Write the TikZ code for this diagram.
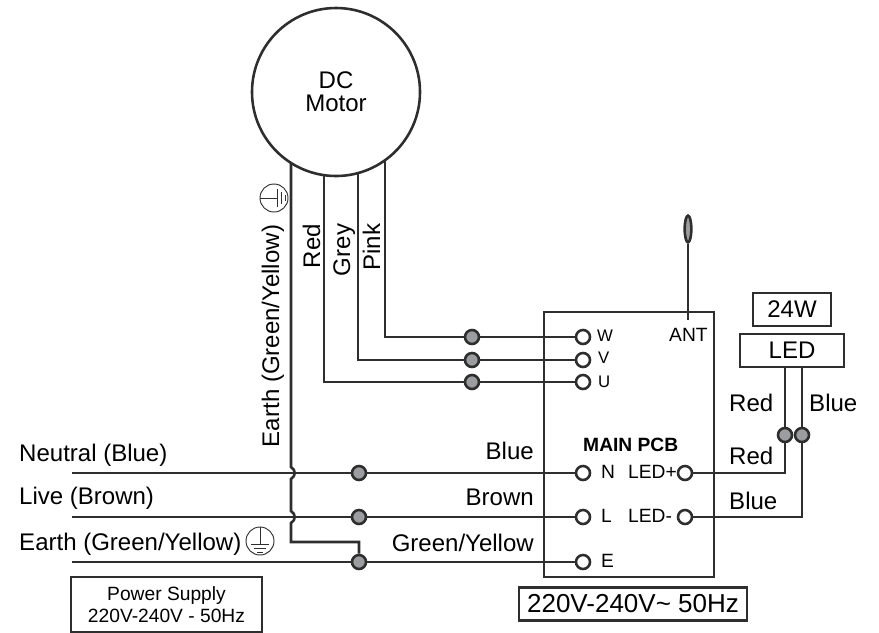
\documentclass[tikz,border=0pt]{standalone}
\usepackage{fontspec}
\usetikzlibrary{shapes.geometric}
\setmainfont{Liberation Sans}
\definecolor{wirecol}{HTML}{2E2E2E}
\definecolor{dotcol}{HTML}{9B9DA0}
\begin{document}
\begin{tikzpicture}[x=0.03cm,y=-0.03cm]
% Estilos
\tikzstyle{wire} = [line width=2.2pt, color=wirecol]
\tikzstyle{frame} = [rectangle, draw=wirecol, line width=2.2pt, inner sep=0pt, align=center, text=black]
\tikzstyle{terminal} = [circle, draw=wirecol, line width=2.2pt, fill=white, minimum size=0.42cm, inner sep=0pt]
\tikzstyle{junction} = [circle, draw=wirecol, line width=2.2pt, fill=dotcol, minimum size=0.42cm, inner sep=0pt]
\tikzstyle{lab} = [inner sep=0pt, text=black, font=\fontsize{20.5}{24}\selectfont]
\tikzstyle{pcblab} = [inner sep=0pt, text=black, font=\fontsize{16.4}{19}\selectfont]
\tikzstyle{pinlab} = [inner sep=0pt, text=black, font=\fontsize{14.3}{17}\selectfont]
\tikzset{earthsym/.pic={
    \draw[line width=0.8pt, color=wirecol] (0,0) circle (14);
    \draw[line width=0.8pt, color=wirecol] (0,-14) -- (0,3);
    \draw[line width=0.8pt, color=wirecol] (-9,3) -- (9,3);
    \draw[line width=0.8pt, color=wirecol] (-6,7) -- (6,7);
    \draw[line width=0.8pt, color=wirecol] (-3,11) -- (3,11);
}}
\useasboundingbox (0,0) rectangle (879,632);

% Motor y placa
\node[circle, draw=wirecol, line width=2.2pt, minimum size=5.04cm, inner sep=0pt, align=center, text=black, font=\fontsize{20.5}{19.6}\selectfont] (motor) at (336,92) {DC\\Motor};
\node[frame, minimum width=5.1cm, minimum height=7.95cm] (pcb) at (629,444.5) {};
\node[frame, minimum width=2.34cm, minimum height=0.99cm, font=\fontsize{20.5}{24}\selectfont] (power) at (792,309.5) {24W};
\node[frame, minimum width=3.12cm, minimum height=0.99cm, font=\fontsize{20.5}{24}\selectfont] (ledbox) at (792,350.5) {LED};
\node[frame, minimum width=6.84cm, minimum height=0.99cm, font=\fontsize{22.2}{26}\selectfont] (rating) at (633,604) {220V-240V\textasciitilde{} 50Hz};
\node[frame, minimum width=5.73cm, minimum height=1.65cm, font=\fontsize{16.4}{19}\selectfont] (supply) at (166.5,604.5) {Power Supply\\220V-240V - 50Hz};

% Bornes
\node[terminal] (tW) at (583,337) {};
\node[terminal] (tV) at (583,360) {};
\node[terminal] (tU) at (583,382) {};
\node[terminal] (tN) at (583,473) {};
\node[terminal] (tL) at (583,517) {};
\node[terminal] (tE) at (583,562) {};
\node[terminal] (tLEDp) at (685,473) {};
\node[terminal] (tLEDm) at (685,517) {};

% Empalmes
\node[junction] (jW) at (472,337) {};
\node[junction] (jV) at (472,360) {};
\node[junction] (jU) at (472,382) {};
\node[junction] (jN) at (359,473) {};
\node[junction] (jL) at (359,517) {};
\node[junction] (jE) at (359,562) {};
\node[junction] (jRed) at (785,435) {};
\node[junction] (jBlue) at (802,435) {};

% Extremos libres
\coordinate (pinkTop) at (385,160);
\coordinate (greyTop) at (358,173);
\coordinate (redTop) at (324,175);
\coordinate (earthTop) at (291,163);
\coordinate (earthBend) at (291,542);
\coordinate (inN) at (72,473);
\coordinate (inL) at (72,517);
\coordinate (inE) at (72,562);
\coordinate (antFoot) at (688,320);

% Antena
\node[ellipse, draw=wirecol, line width=2.2pt, fill=dotcol, minimum width=0.2cm, minimum height=0.8cm, inner sep=0pt] (antenna) at (688,229) {};
\draw[wire] (antenna) -- (antFoot);

% Cables del motor
\draw[wire] (pinkTop) |- (jW);
\draw[wire] (greyTop) |- (jV);
\draw[wire] (redTop) |- (jU);
\draw[wire] (jW) -- (tW);
\draw[wire] (jV) -- (tV);
\draw[wire] (jU) -- (tU);

% Alimentación
\draw[wire] (inN) -- (jN);
\draw[wire] (inL) -- (jL);
\draw[wire] (inE) -- (jE);
\draw[wire] (jN) -- (tN);
\draw[wire] (jL) -- (tL);
\draw[wire] (jE) -- (tE);
\draw[wire] (earthTop) -- (291,467) .. controls (296,470) and (296,476) .. (291,479) -- (291,511) .. controls (296,514) and (296,520) .. (291,523) -- (earthBend) -| (jE);

% LED
\draw[wire] (jRed) -- (jRed |- ledbox.south);
\draw[wire] (jBlue) -- (jBlue |- ledbox.south);
\draw[wire] (jRed) |- (tLEDp);
\draw[wire] (jBlue) |- (tLEDm);

% Textos
\node[lab, anchor=base west] (txtNeutral) at (19,461) {Neutral (Blue)};
\node[lab, anchor=base west] (txtLive) at (19,504) {Live (Brown)};
\node[lab, anchor=base west] (txtEarth) at (19,550) {Earth (Green/Yellow)};
\node[lab, anchor=base east] (txtBlue) at (534,459) {Blue};
\node[lab, anchor=base east] (txtBrown) at (534,505) {Brown};
\node[lab, anchor=base east] (txtGY) at (534,551) {Green/Yellow};
\node[lab, anchor=base, rotate=90] (txtEarthV) at (279,336) {Earth (Green/Yellow)};
\node[lab, anchor=base, rotate=90] (txtRed) at (320,246) {Red};
\node[lab, anchor=base, rotate=90] (txtGrey) at (350,250) {Grey};
\node[lab, anchor=base, rotate=90] (txtPink) at (380,247) {Pink};
\node[lab, anchor=base west] (txtLedRed) at (729,411) {Red};
\node[lab, anchor=base west] (txtLedBlue) at (809,411) {Blue};
\node[lab, anchor=base west] (txtOutRed) at (729,464) {Red};
\node[lab, anchor=base west] (txtOutBlue) at (729,509) {Blue};
\node[pcblab, anchor=base west, font=\fontsize{16.4}{19}\selectfont\bfseries] (txtPcb) at (583,451) {MAIN PCB};
\node[pcblab, anchor=base west] (txtAnt) at (669,341) {ANT};
\node[pcblab, anchor=base west] (txtN) at (601,478) {N};
\node[pcblab, anchor=base west] (txtL) at (601,522) {L};
\node[pcblab, anchor=base west] (txtE) at (601,567) {E};
\node[pcblab, anchor=base west] (txtLEDp) at (628,478) {LED+};
\node[pcblab, anchor=base west] (txtLEDm) at (628,522) {LED-};
\node[pinlab, anchor=base west] (txtW) at (597,341) {W};
\node[pinlab, anchor=base west] (txtV) at (598,363) {V};
\node[pinlab, anchor=base west] (txtU) at (598,387) {U};

% Simbolos de tierra
\pic at (260,541) {earthsym};
\pic[rotate=90] at (274,198) {earthsym};
\end{tikzpicture}
\end{document}
